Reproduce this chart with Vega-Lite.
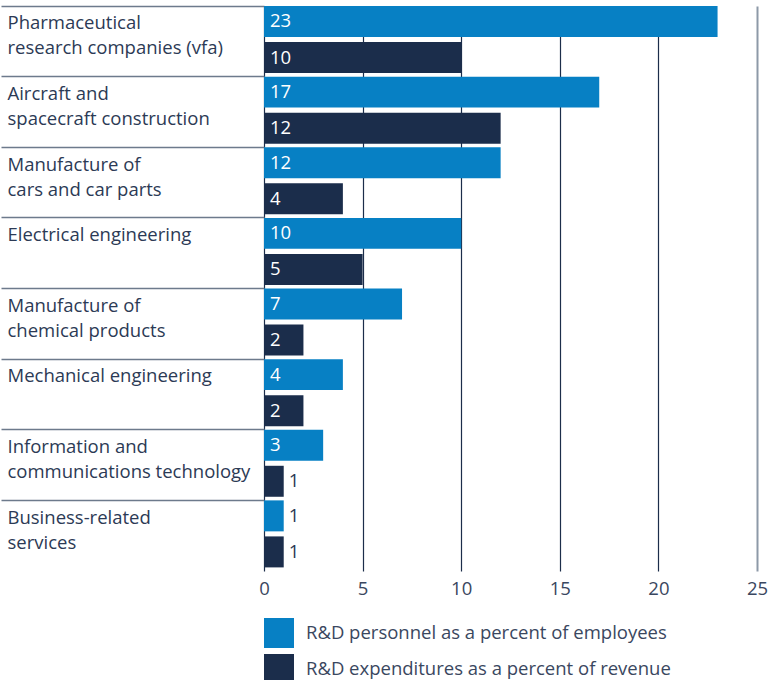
{
  "$schema": "https://vega.github.io/schema/vega-lite/v6.json",
  "width": 493,
  "height": 565,
  "padding": {"left": 0, "top": 5, "right": 0, "bottom": 0},
  "background": "white",
  "config": {"view": {"stroke": null}, "font": "Open Sans"},
  "data": {"values": [
    {"category": "Pharmaceutical\nresearch companies (vfa)", "series": "R&D personnel as a percent of employees", "value": 23},
    {"category": "Pharmaceutical\nresearch companies (vfa)", "series": "R&D expenditures as a percent of revenue", "value": 10},
    {"category": "Aircraft and\nspacecraft construction", "series": "R&D personnel as a percent of employees", "value": 17},
    {"category": "Aircraft and\nspacecraft construction", "series": "R&D expenditures as a percent of revenue", "value": 12},
    {"category": "Manufacture of\ncars and car parts", "series": "R&D personnel as a percent of employees", "value": 12},
    {"category": "Manufacture of\ncars and car parts", "series": "R&D expenditures as a percent of revenue", "value": 4},
    {"category": "Electrical engineering", "series": "R&D personnel as a percent of employees", "value": 10},
    {"category": "Electrical engineering", "series": "R&D expenditures as a percent of revenue", "value": 5},
    {"category": "Manufacture of\nchemical products", "series": "R&D personnel as a percent of employees", "value": 7},
    {"category": "Manufacture of\nchemical products", "series": "R&D expenditures as a percent of revenue", "value": 2},
    {"category": "Mechanical engineering", "series": "R&D personnel as a percent of employees", "value": 4},
    {"category": "Mechanical engineering", "series": "R&D expenditures as a percent of revenue", "value": 2},
    {"category": "Information and\ncommunications technology", "series": "R&D personnel as a percent of employees", "value": 3},
    {"category": "Information and\ncommunications technology", "series": "R&D expenditures as a percent of revenue", "value": 1},
    {"category": "Business-related\nservices", "series": "R&D personnel as a percent of employees", "value": 1},
    {"category": "Business-related\nservices", "series": "R&D expenditures as a percent of revenue", "value": 1}
  ]},
  "encoding": {
    "y": {
      "field": "category", "type": "nominal", "sort": null,
      "scale": {"paddingInner": 0, "paddingOuter": 0},
      "axis": {
        "title": null, "bandPosition": 0, "domain": false, "grid": false,
        "ticks": true, "tickSize": 263, "tickColor": "#6d7a8c", "tickWidth": 1.5,
        "labelAlign": "left", "labelBaseline": "alphabetic", "labelOffset": -12,
        "labelPadding": -6, "labelFontSize": 18.5, "labelColor": "#2c3a55",
        "labelLineHeight": 25, "labelLimit": 300, "labelBound": false,
        "labelExpr": "split(datum.label, '\\n')", "maxExtent": 300
      }
    },
    "yOffset": {
      "field": "series", "sort": null,
      "scale": {"paddingInner": 0.14, "paddingOuter": 0.05, "align": 0}
    }
  },
  "layer": [
    {
      "mark": {"type": "bar"},
      "encoding": {
        "x": {
          "field": "value", "type": "quantitative",
          "scale": {"domain": [0, 25], "nice": false},
          "axis": {
            "title": null, "values": [0, 5, 10, 15, 20, 25], "domain": false, "ticks": false,
            "grid": true,
            "gridColor": {"condition": {"test": "datum.value === 25", "value": "#8d99a8"}, "value": "#1c2d4a"},
            "gridWidth": {"condition": {"test": "datum.value === 25", "value": 2}, "value": 1.2},
            "labelFontSize": 18.5, "labelColor": "#3a4760", "labelPadding": 8, "labelFlush": false
          }
        },
        "color": {
          "field": "series", "type": "nominal",
          "scale": {
            "domain": ["R&D personnel as a percent of employees", "R&D expenditures as a percent of revenue"],
            "range": ["#0780c4", "#1b2d4b"]
          },
          "legend": {
            "orient": "bottom", "direction": "vertical", "title": null,
            "symbolType": "square", "symbolSize": 900, "symbolStrokeWidth": 0,
            "labelFontSize": 18.5, "labelColor": "#3a4760", "labelOffset": 12,
            "rowPadding": 6, "offset": 20, "padding": 0, "labelLimit": 400
          }
        }
      }
    },
    {
      "transform": [{"filter": "datum.value > 1"}],
      "mark": {"type": "text", "align": "left", "baseline": "middle", "dx": 6, "color": "white", "fontSize": 18.5},
      "encoding": {
        "x": {"datum": 0, "type": "quantitative"},
        "text": {"field": "value", "type": "quantitative"}
      }
    },
    {
      "transform": [{"filter": "datum.value <= 1"}],
      "mark": {"type": "text", "align": "left", "baseline": "middle", "dx": 5, "color": "#2c3a55", "fontSize": 18.5},
      "encoding": {
        "x": {"field": "value", "type": "quantitative"},
        "text": {"field": "value", "type": "quantitative"}
      }
    }
  ]
}
